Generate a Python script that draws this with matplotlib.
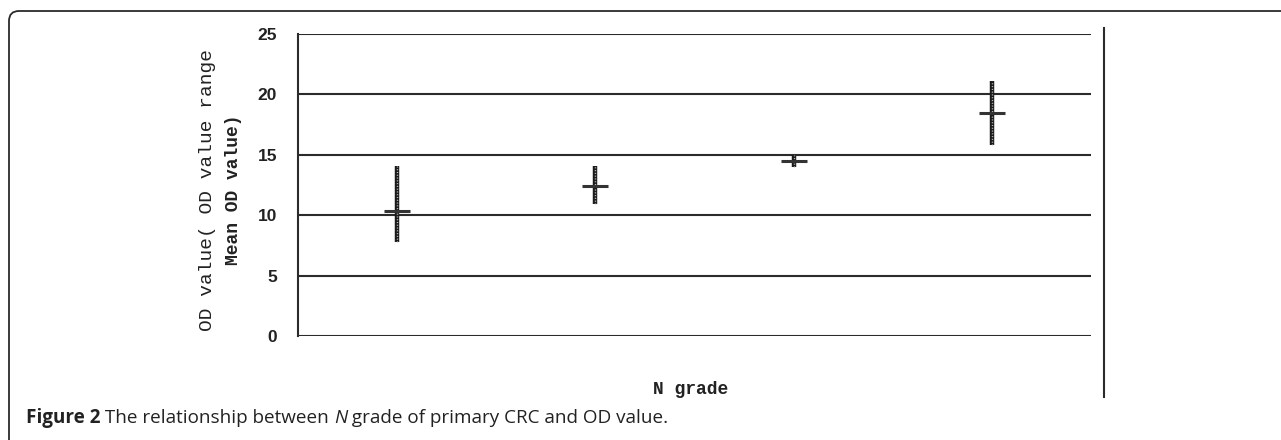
import matplotlib
matplotlib.use("Agg")
import matplotlib.pyplot as plt
from matplotlib.patches import FancyBboxPatch
from matplotlib.lines import Line2D

# N grade groups (unlabelled on the axis) and OD values
groups = [1, 2, 3, 4]
od_low = [7.8, 10.9, 14.0, 15.8]
od_high = [14.1, 14.1, 15.0, 21.1]
od_mean = [10.35, 12.4, 14.5, 18.5]
y_ticks = [0, 5, 10, 15, 20, 25]

ylabel_1 = "OD value( OD value range"
ylabel_2 = "Mean OD value)"
xlabel = "N grade"
caption = [("Figure 2", "bold", "normal"), (" The relationship between ", "normal", "normal"),
           ("N", "normal", "italic"), (" grade of primary CRC and OD value.", "normal", "normal")]

W, H = 1281, 440
fig = plt.figure(figsize=(W / 100, H / 100), dpi=100)
ink = "#2b2b2b"

# rounded frame around the figure (runs off the right and bottom edges)
frame = FancyBboxPatch((0.09, -0.6), 14.0, 4.29 + 0.6,
                       boxstyle="round,pad=0,rounding_size=0.1",
                       transform=fig.dpi_scale_trans, fill=False,
                       edgecolor=ink, lw=1.3)
fig.patches.append(frame)

ax = fig.add_axes([298 / W, 1 - 336 / H, (1091 - 298) / W, (336 - 34) / H])
ax.set_xlim(0.5, 4.5)
ax.set_ylim(0, 25)
for s in ("top", "right", "bottom"):
    ax.spines[s].set_visible(False)
ax.spines["left"].set_color(ink)
ax.spines["left"].set_linewidth(1.5)
ax.set_yticks(y_ticks)
ax.set_xticks([])
ax.tick_params(axis="y", length=0, pad=15, labelsize=12.5, labelcolor="#222")
for lab in ax.get_yticklabels():
    lab.set_fontfamily("Liberation Sans")
    lab.set_fontweight("bold")
for y in y_ticks:
    ax.axhline(y, color=ink, lw=1.5, zorder=1)

# range bars with a slightly textured look, and the mean as a short dash
ax.vlines(groups, od_low, od_high, colors="#1a1a1a", lw=3.2, zorder=3)
ax.vlines(groups, od_low, od_high, colors="#bbbbbb", lw=1.0,
          linestyles=(0, (0.8, 1.2)), zorder=4)
ax.plot(groups, od_mean, linestyle="none", marker="_", markersize=19,
        markeredgewidth=2.2, color="#333333", zorder=5)

# y label in two lines
fig.text(207 / W, 1 - 190 / H, ylabel_1, rotation=90, ha="center", va="center",
         family="Liberation Mono", fontsize=14, color="#222")
fig.text(233 / W, 1 - 190 / H, ylabel_2, rotation=90, ha="center", va="center",
         family="Liberation Mono", fontsize=13, fontweight="bold", color="#222")
fig.text(691 / W, 1 - 389 / H, xlabel, ha="center", va="center",
         family="Liberation Mono", fontsize=13, fontweight="bold", color="#222")

# vertical rule on the right
fig.lines.append(Line2D([11.04, 11.04], [0.43, 4.12], transform=fig.dpi_scale_trans,
                        color=ink, lw=1.5))

# caption, drawn piece by piece
renderer = fig.canvas.get_renderer()
x = 26
for txt, weight, style in caption:
    t = fig.text(x / W, 1 - 418 / H, txt, ha="left", va="center", family="Open Sans",
                 fontsize=13.6, fontweight=weight, fontstyle=style, color="#222")
    x += t.get_window_extent(renderer).width

fig.savefig("out.png", dpi=100)
